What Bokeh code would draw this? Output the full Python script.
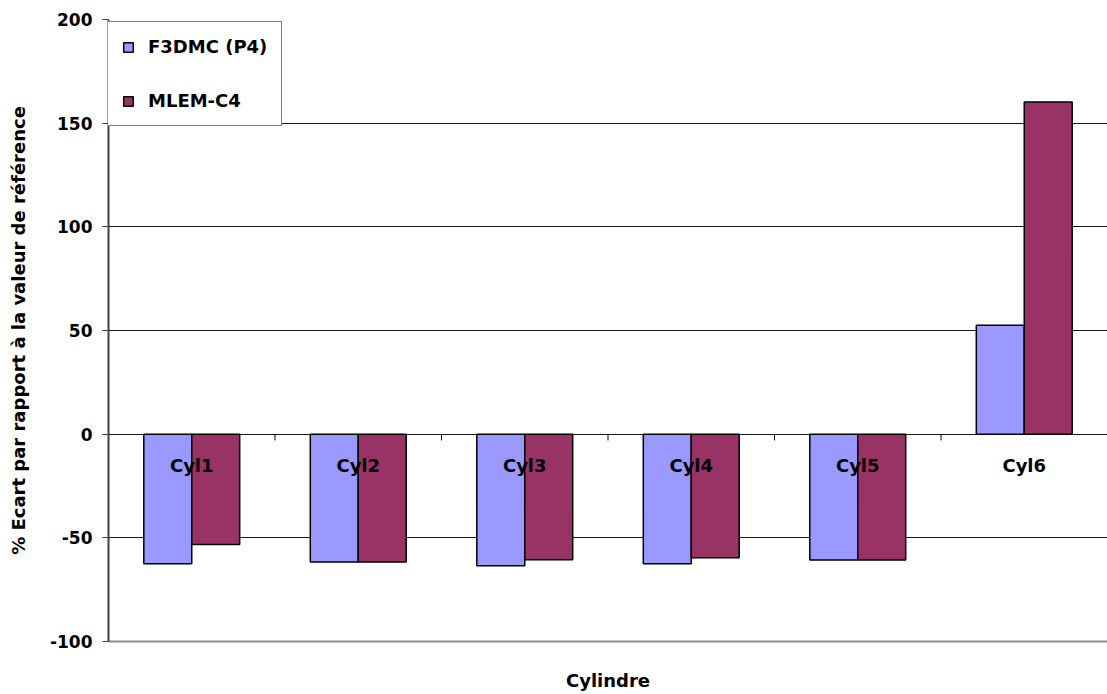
from bokeh.plotting import figure
from bokeh.models import ColumnDataSource, FactorRange, Range1d, FixedTicker, Legend, LegendItem
from bokeh.transform import dodge
from bokeh.core.properties import value
from bokeh.embed import file_html
from bokeh.resources import INLINE

# ---- data ----
categories = ["Cyl1", "Cyl2", "Cyl3", "Cyl4", "Cyl5", "Cyl6"]
f3dmc = [-62.5, -61.7, -63.5, -62.5, -60.7, 52.5]
mlem = [-53.2, -61.7, -60.6, -59.6, -60.7, 160.2]
series_names = ["F3DMC (P4)", "MLEM-C4"]
y_ticks = [-100, -50, 0, 50, 100, 150, 200]
x_title = "Cylindre"
y_title = "% Ecart par rapport à la valeur de référence"

# ---- style ----
colors = ["#9999FF", "#993366"]
FONT = "DejaVu Sans"
BAR_W = 0.288
TICK_LEN = 3.0  # data units below the zero line

src = ColumnDataSource(dict(cat=categories, f3dmc=f3dmc, mlem=mlem,
                            zero=[0] * len(categories)))

p = figure(x_range=FactorRange(factors=categories, range_padding=0),
           y_range=Range1d(y_ticks[0], y_ticks[-1]),
           width=1107, height=694, output_backend="svg", toolbar_location=None,
           min_border_left=108, min_border_right=0, min_border_top=19,
           min_border_bottom=53)
p.outline_line_color = None
p.background_fill_color = "white"
p.border_fill_color = "white"

# grid
p.xgrid.grid_line_color = None
p.ygrid.ticker = FixedTicker(ticks=y_ticks)
p.ygrid.grid_line_color = "#1a1a1a"
p.ygrid.grid_line_width = 1

# y axis
yax = p.yaxis[0]
yax.ticker = FixedTicker(ticks=y_ticks)
yax.major_label_overrides = {t: str(t) for t in y_ticks}
yax.axis_line_color = "#404040"
yax.axis_line_width = 2
yax.major_tick_line_color = "#404040"
yax.major_tick_line_width = 1
yax.major_tick_out = 6
yax.major_tick_in = 0
yax.minor_tick_line_color = None
yax.major_label_text_font = FONT
yax.major_label_text_font_style = "bold"
yax.major_label_text_font_size = "17px"
yax.major_label_text_color = "black"
yax.major_label_standoff = 10
yax.axis_label = y_title
yax.axis_label_text_font = FONT
yax.axis_label_text_font_style = "bold"
yax.axis_label_text_font_size = "18px"
yax.axis_label_text_color = "black"
yax.axis_label_standoff = 18

# x axis (bottom border + title only)
xax = p.xaxis[0]
xax.axis_line_color = "#8c8c8c"
xax.axis_line_width = 2
xax.major_tick_line_color = None
xax.minor_tick_line_color = None
xax.major_label_text_font_size = "0px"
xax.major_label_text_color = None
xax.major_label_standoff = 0
xax.axis_label = x_title
xax.axis_label_text_font = FONT
xax.axis_label_text_font_style = "bold"
xax.axis_label_text_font_size = "18px"
xax.axis_label_text_color = "black"
xax.axis_label_standoff = 22

# bars
r1 = p.vbar(x=dodge("cat", -BAR_W / 2, range=p.x_range), top="f3dmc", width=BAR_W,
            source=src, fill_color=colors[0], line_color="black", line_width=1.5)
r2 = p.vbar(x=dodge("cat", BAR_W / 2, range=p.x_range), top="mlem", width=BAR_W,
            source=src, fill_color=colors[1], line_color="black", line_width=1.5)

# category ticks on the zero line
p.segment(x0=dodge("cat", 0.5, range=p.x_range), y0="zero",
          x1=dodge("cat", 0.5, range=p.x_range), y1=-TICK_LEN,
          source=src, line_color="black", line_width=1)

# category labels just below the zero line
p.text(x="cat", y="zero", text="cat", source=src, text_align="center",
       text_baseline="alphabetic", y_offset=31,
       text_font=value(FONT), text_font_style="bold", text_font_size="18px",
       text_color="black")

legend = Legend(items=[LegendItem(label=series_names[0], renderers=[r1]),
                       LegendItem(label=series_names[1], renderers=[r2])],
                location=(-1, 515))
legend.border_line_color = "black"
legend.border_line_width = 1
legend.background_fill_color = "white"
legend.background_fill_alpha = 1
legend.padding = 14
legend.margin = 0
legend.spacing = 33
legend.glyph_width = 12
legend.glyph_height = 12
legend.label_standoff = 14
legend.label_height = 20
legend.label_text_font = FONT
legend.label_text_font_style = "bold"
legend.label_text_font_size = "18px"
legend.label_text_color = "black"
p.add_layout(legend)

open("out.html", "w").write(file_html(p, INLINE))
